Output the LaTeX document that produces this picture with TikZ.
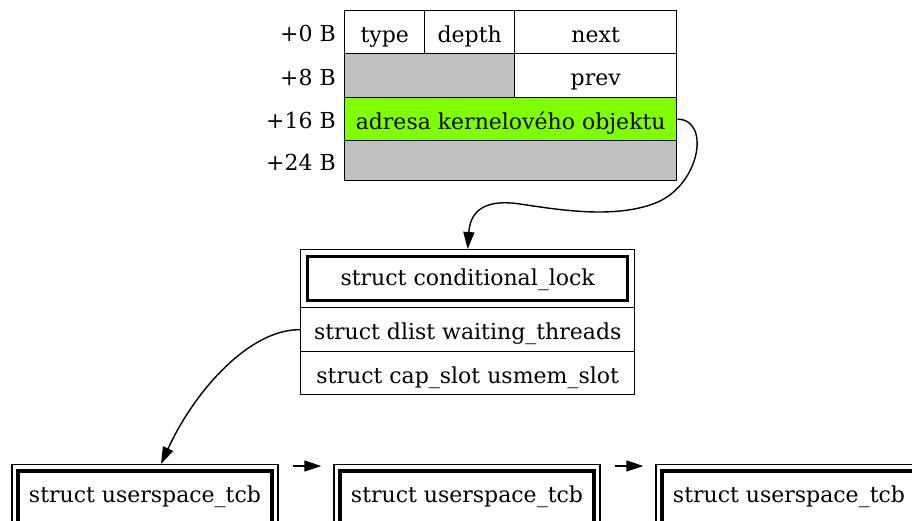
\documentclass[tikz,border=0pt]{standalone}
\usepackage{fontspec}
\setmainfont{DejaVu Serif}
\usetikzlibrary{arrows.meta}
\newcommand\cellfont{\fontsize{22}{26}\selectfont}
\definecolor{padgray}{HTML}{C0C0C0}
\definecolor{ptrgreen}{HTML}{7FFF00}
\tikzset{
	cell/.style={draw, line width=1.4pt, anchor=north west, inner sep=0pt,
		text height=20pt, text depth=0pt, font=\cellfont},
	pad/.style={cell, fill=padgray},
	offs/.style={anchor=east, inner sep=0pt, text height=20pt, text depth=0pt, font=\cellfont},
	hdr/.style={draw, line width=3.5pt, inner sep=0pt, text height=14pt, text depth=0pt, font=\cellfont},
	ptr/.style={-{Triangle[length=17pt, width=11pt]}, line width=1.4pt}
}
\begin{document}
\begin{tikzpicture}[x=1pt, y=-1pt]
	\clip (0,0) rectangle (912,520);
	% offsets
	\foreach \y/\t in {31.5/0, 75/8, 118.5/16, 160/24}
		\node[offs] (off\t) at (336,\y) {+\t{} B};
	% kernel object header
	\node[cell, minimum width=80, minimum height=43] (type) at (344,10) {type};
	\node[cell, minimum width=90, minimum height=43] (depth) at (424,10) {depth};
	\node[cell, minimum width=162, minimum height=43] (next) at (514,10) {next};
	\node[pad, minimum width=170, minimum height=44] (pad1) at (344,53) {};
	\node[cell, minimum width=162, minimum height=44] (prev) at (514,53) {prev};
	\node[cell, fill=ptrgreen, minimum width=332, minimum height=43] (addr) at (344,97) {adresa kernelového objektu};
	\node[pad, minimum width=332, minimum height=40] (pad2) at (344,140) {};

	% conditional lock
	\node[cell, minimum width=334, minimum height=58] (lockbox) at (300,249) {};
	\node[hdr, minimum width=320, minimum height=44] (lock) at (lockbox.center) {struct conditional\_lock};
	\node[cell, minimum width=334, minimum height=44] (waiting) at (300,307) {struct dlist waiting\_threads};
	\node[cell, minimum width=334, minimum height=43] (usmem) at (300,351) {struct cap\_slot usmem\_slot};

	% threads
	\foreach \x [count=\n] in {145,467,789} {
		\node[cell, anchor=north, minimum width=266, minimum height=64] (tcbo\n) at (\x,464) {};
		\node[hdr, text height=13pt, text depth=3pt, minimum width=254, minimum height=52] (tcb\n) at (\x,497) {struct userspace\_tcb};
	}
	\foreach \a/\b in {1/2, 2/3}
		\draw[ptr] ([shift={(14pt,-2pt)}]tcbo\a.north east) -- ([shift={(-12pt,-2pt)}]tcbo\b.north west);

	\draw[ptr] (addr.east) .. controls (712,119) and (700,190) .. (650,205)
		.. controls (610,218) and (560,210) .. (520,204)
		.. controls (480,198) and (470,215) .. (lockbox.north);
	\draw[ptr] (waiting.west) .. controls (250,329) and (195,390) .. ([xshift=16pt]tcbo1.north);
\end{tikzpicture}
\end{document}
